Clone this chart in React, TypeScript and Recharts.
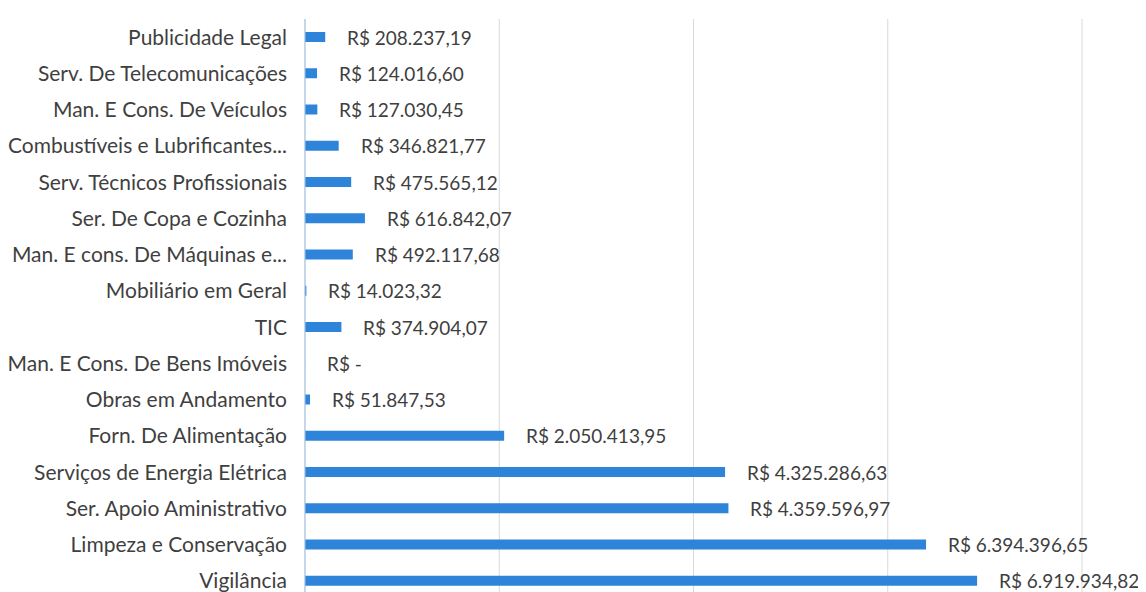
import React from 'react';
import { BarChart, Bar, XAxis, YAxis, CartesianGrid, LabelList } from 'recharts';

// Categories top -> bottom, as in the picture
const CATEGORIES = [
  'Publicidade Legal',
  'Serv. De Telecomunicações',
  'Man. E Cons. De Veículos',
  'Combustíveis e Lubrificantes...',
  'Serv. Técnicos Profissionais',
  'Ser. De Copa e Cozinha',
  'Man. E cons. De Máquinas e...',
  'Mobiliário em Geral',
  'TIC',
  'Man. E Cons. De Bens Imóveis',
  'Obras em Andamento',
  'Forn. De Alimentação',
  'Serviços de Energia Elétrica',
  'Ser. Apoio Aministrativo',
  'Limpeza e Conservação',
  'Vigilância',
];

const VALUES = [
  208237.19, 124016.6, 127030.45, 346821.77, 475565.12, 616842.07, 492117.68, 14023.32,
  374904.07, 0, 51847.53, 2050413.95, 4325286.63, 4359596.97, 6394396.65, 6919934.82,
];

const X_TICKS = [0, 2000000, 4000000, 6000000, 8000000];

const data = CATEGORIES.map((name, i) => ({ name, value: VALUES[i] }));

const formatBRL = (v: number) => {
  if (!v) return 'R$ -';
  const [int, dec] = v.toFixed(2).split('.');
  const grouped = int.replace(/\B(?=(\d{3})+(?!\d))/g, '.');
  return `R$ ${grouped},${dec}`;
};

const FONT = 'Lato, "Noto Sans", sans-serif';
const TEXT_COLOR = '#3f3f3f';

// custom label so the zero bar still gets its "R$ -"
const ValueLabel = (props: any) => {
  const { x, y, width, height, value } = props;
  return (
    <text
      x={Number(x) + Math.round(Number(width || 0)) + 22}
      y={Number(y) + Number(height) / 2}
      dominantBaseline="central"
      fontSize={19}
      fontFamily={FONT}
      fill={TEXT_COLOR}
    >
      {formatBRL(Number(value))}
    </text>
  );
};

const App: React.FC = () => {
  return (
    <div style={{ width: 1138, height: 600, background: '#fff' }}>
      <BarChart
        width={1138}
        height={600}
        data={data}
        layout="vertical"
        margin={{ top: 11, right: 64, bottom: 9, left: 0 }}
        barCategoryGap={0}
      >
        <CartesianGrid horizontal={false} stroke="#d9d9d9" />
        <XAxis type="number" domain={[0, 8000000]} ticks={X_TICKS} hide />
        <YAxis
          type="category"
          dataKey="name"
          width={297}
          interval={0}
          tickLine={false}
          tickSize={0}
          tickMargin={18}
          axisLine={{ stroke: '#9dc3e6' }}
          tick={{ fontSize: 21, fill: TEXT_COLOR, fontFamily: FONT }}
        />
        {/* tiny min size keeps the zero row (and its label) in the bar list */}
        <Bar
          dataKey="value"
          fill="#2e84d9"
          barSize={10}
          minPointSize={(v: number) => (v === 0 ? 0.01 : 0)}
          isAnimationActive={false}
        >
          <LabelList dataKey="value" content={ValueLabel} />
        </Bar>
      </BarChart>
    </div>
  );
};

export default App;
